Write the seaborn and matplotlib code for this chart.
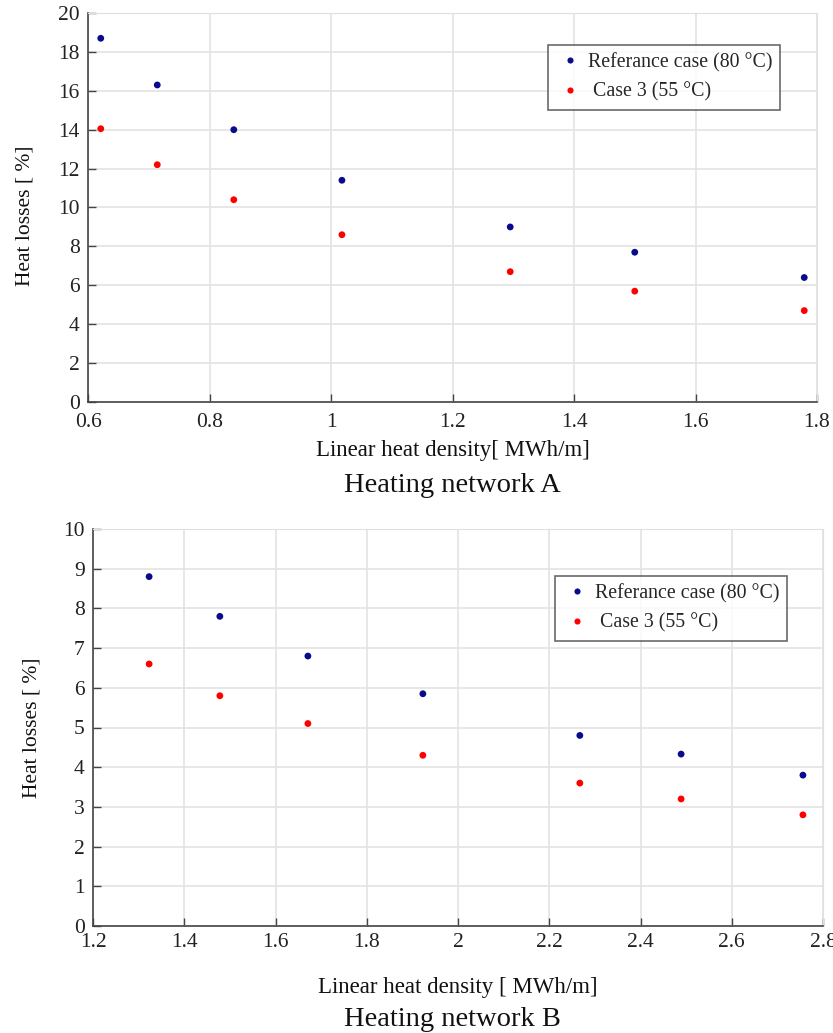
import pandas as pd
import matplotlib
matplotlib.use('Agg')
import matplotlib.pyplot as plt
import seaborn as sns

# values
density_a = [0.621, 0.714, 0.840, 1.018, 1.295, 1.500, 1.779]
ref_losses_a = [18.7, 16.3, 14.0, 11.4, 9.0, 7.7, 6.4]
case3_losses_a = [14.05, 12.2, 10.4, 8.6, 6.7, 5.7, 4.7]

density_b = [1.323, 1.478, 1.671, 1.923, 2.267, 2.489, 2.756]
ref_losses_b = [8.8, 7.8, 6.8, 5.85, 4.8, 4.33, 3.8]
case3_losses_b = [6.6, 5.8, 5.1, 4.3, 3.6, 3.2, 2.8]

labels = ['Referance case (80 °C)', ' Case 3 (55 °C)']
colors = {labels[0]: '#0a0a8c', labels[1]: '#ff0000'}


def make_df(x, ref, case3):
    return pd.DataFrame({
        'x': x + x,
        'y': ref + case3,
        'series': [labels[0]] * len(ref) + [labels[1]] * len(case3),
    })


sns.set_style('white')
plt.rcParams['font.family'] = ['Liberation Serif', 'DejaVu Serif']

W, H = 833, 1033
fig = plt.figure(figsize=(W / 100, H / 100), dpi=100)
ax_a = fig.add_axes([88 / W, 1 - 402 / H, 729 / W, 389 / H])
ax_b = fig.add_axes([93 / W, 1 - 926 / H, 730 / W, 397 / H])

# per panel: axes, data, x range, y range, y step, x label, caption,
# legend corner, tick pad, x label y, caption y (px), y label x, y label y
panels = [
    (ax_a, make_df(density_a, ref_losses_a, case3_losses_a), (0.6, 1.8), (0, 20), 2,
     'Linear heat density[ MWh/m]', 'Heating network A', (0.631, 0.918),
     8, -0.098, 485, -0.073, 0.48),
    (ax_b, make_df(density_b, ref_losses_b, case3_losses_b), (1.2, 2.8), (0, 10), 1,
     'Linear heat density [ MWh/m]', 'Heating network B', (0.633, 0.882),
     5, -0.128, 1019, -0.07, 0.5),
]

for (ax, df, xlim, ylim, ystep, xlabel, title, leg_pos,
     xpad, xlab_y, title_y, ylab_x, ylab_y) in panels:
    sns.scatterplot(data=df, x='x', y='y', hue='series', palette=colors,
                    s=24, edgecolor='none', ax=ax)
    ax.set_xlim(*xlim)
    ax.set_ylim(*ylim)
    n = int(round((xlim[1] - xlim[0]) / 0.2))
    xt = [round(xlim[0] + i * 0.2, 1) for i in range(n + 1)]
    ax.set_xticks(xt)
    ax.set_xticklabels([('%g' % v) for v in xt])
    ax.set_yticks(range(ylim[0], ylim[1] + 1, ystep))
    ax.grid(True, color='#e3e3e3', linewidth=1.2)
    ax.set_axisbelow(True)
    for side in ['top', 'right']:
        ax.spines[side].set_color('#e0e0e0')
    for side in ['left', 'bottom']:
        ax.spines[side].set_color('#444444')
        ax.spines[side].set_linewidth(1.2)
    ax.tick_params(direction='in', length=6, width=1, color='#444444',
                   labelsize=15.5, labelcolor='#222222',
                   bottom=True, left=True)
    ax.tick_params(axis='x', pad=xpad)
    ax.tick_params(axis='y', pad=6)
    ax.set_xlabel(xlabel, fontsize=16.5, color='#111111')
    ax.xaxis.set_label_coords(0.5, xlab_y)
    ax.set_ylabel('Heat losses [ %]', fontsize=15.5, color='#111111')
    ax.yaxis.set_label_coords(ylab_x, ylab_y)
    fig.text(0.543, 1 - title_y / H, title, ha='center', va='center',
             fontsize=20.5, color='#111111')
    leg = ax.legend(loc='upper left', bbox_to_anchor=leg_pos, borderaxespad=0,
                    frameon=True, fancybox=False, fontsize=14.3, markerscale=0.9,
                    handlelength=1.4, handletextpad=0.2, borderpad=0.4,
                    labelspacing=0.5)
    leg.get_frame().set_edgecolor('#444444')
    leg.get_frame().set_linewidth(1.2)

fig.savefig('out.png', dpi=100)
